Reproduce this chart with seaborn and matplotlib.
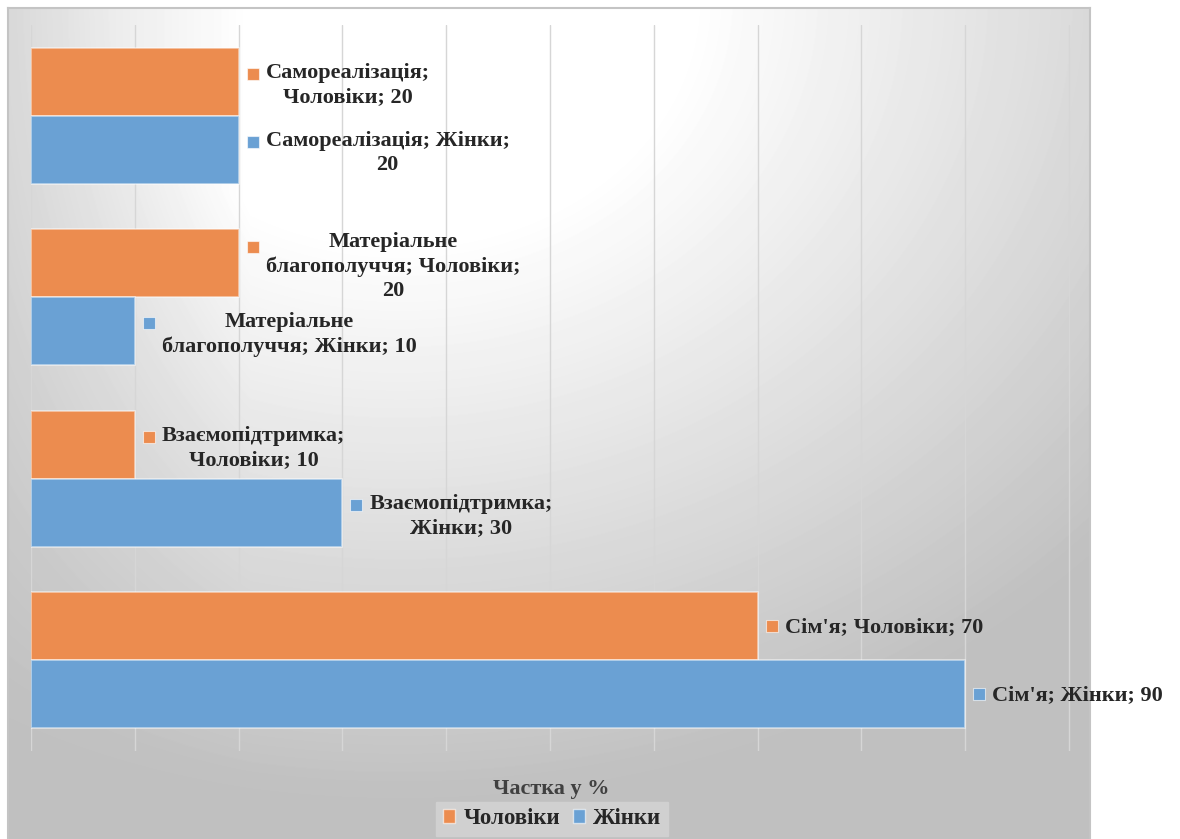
import numpy as np
import pandas as pd
import matplotlib
matplotlib.use('Agg')
import matplotlib.pyplot as plt
import matplotlib.transforms as mtransforms
from matplotlib.patches import Patch
import seaborn as sns

# Data
categories = ['Самореалізація', 'Матеріальне благополуччя', 'Взаємопідтримка', "Сім'я"]
men = [20, 20, 10, 70]
women = [20, 10, 30, 90]
series = ['Чоловіки', 'Жінки']
colors = ['#ec8c4f', '#6aa1d4']
x_title = 'Частка у %'

# data labels, wrapped as in the original
men_labels = ['Самореалізація;\nЧоловіки; 20',
              'Матеріальне\nблагополуччя; Чоловіки;\n20',
              'Взаємопідтримка;\nЧоловіки; 10',
              "Сім'я; Чоловіки; 70"]
women_labels = ['Самореалізація; Жінки;\n20',
                'Матеріальне\nблагополуччя; Жінки; 10',
                'Взаємопідтримка;\nЖінки; 30',
                "Сім'я; Жінки; 90"]

sns.set_style('white')
plt.rcParams['font.family'] = ['Liberation Serif', 'DejaVu Serif']

W, H = 1180, 839
fig = plt.figure(figsize=(W / 100, H / 100), dpi=100)

# gradient chart background (frame from x=8..1090, y=8..bottom)
bg = fig.add_axes([8 / W, -0.01, 1082 / W, 1 - 8 / H + 0.01])
px = np.arange(8, 1090)
py = np.arange(8, 848)
X, Y = np.meshgrid(px, py)
r = np.sqrt((X - 400) ** 2 + ((Y - 0) * 1.2) ** 2)
t_rad = np.clip((r - 290) / 680, 0, 1)
t_left = np.clip((250 - X) / 250, 0, 1) * 0.55
t = 1 - (1 - t_rad) * (1 - t_left)
g = 1 - 0.25 * t
bg.imshow(g, cmap='gray', vmin=0, vmax=1, aspect='auto',
          extent=(8, 1090, 848, 8), interpolation='bilinear')
bg.set_xticks([])
bg.set_yticks([])
for s in bg.spines.values():
    s.set_color('#c4c4c4')
    s.set_linewidth(1.5)

# main plot
ax = fig.add_axes([31 / W, 1 - 751 / H, (1072 - 31) / W, (751 - 25) / H])
ax.set_facecolor('none')

df = pd.DataFrame({
    'category': categories * 2,
    'value': men + women,
    'series': [series[0]] * len(categories) + [series[1]] * len(categories),
})

sns.barplot(data=df, x='value', y='category', hue='series', hue_order=series,
            palette=colors, orient='h', width=0.75, gap=0, ax=ax, legend=False,
            edgecolor=(1, 1, 1, 0.55), linewidth=1.2, saturation=1, zorder=2)

ax.set_xlim(0, 100.3)
ax.set_ylim(len(categories) - 0.5, -0.5)
ax.set_xticks(range(0, 101, 10))
ax.grid(axis='x', color='#d6d6d6', linewidth=1, zorder=0)
ax.set_axisbelow(True)
ax.tick_params(length=0, labelbottom=False, labelleft=False)
ax.set_ylabel('')
ax.set_xlabel(x_title, fontsize=16, fontweight='bold', color='#404040')
ax.xaxis.set_label_coords(0.5, (751 - 779) / 726)
sns.despine(ax=ax, left=True, bottom=True)

# data labels with small series-colour squares
for cont, labels, col in zip(ax.containers, [men_labels, women_labels], colors):
    for bar, lab in zip(cont, labels):
        x = bar.get_width()
        y = bar.get_y() + bar.get_height() / 2
        n = lab.count('\n') + 1
        dy = -3 if n > 1 else -1
        ax.annotate(lab, xy=(x, y), xytext=(27, dy), textcoords='offset pixels',
                    ha='left', va='center', multialignment='center',
                    fontsize=16, fontweight='bold', linespacing=1.28,
                    annotation_clip=False)
        tr = mtransforms.offset_copy(ax.transData, fig=fig, x=14, y=8 * (n - 1), units='dots')
        ax.plot([x], [y], marker='s', ms=8.5, color=col, mec=(1, 1, 1, 0.6), mew=0.8,
                transform=tr, clip_on=False, zorder=3)

handles = [Patch(facecolor=c, edgecolor=(1, 1, 1, 0.6), label=s) for s, c in zip(series, colors)]
fig.legend(handles=handles, loc='center', bbox_to_anchor=(552 / W, 1 - 819 / H), ncol=2,
           frameon=True, facecolor='#d0d0d0', edgecolor='#d0d0d0', fancybox=False,
           framealpha=1, handlelength=0.55, handleheight=0.55, handletextpad=0.35,
           columnspacing=0.55, borderpad=0.3,
           prop={'family': 'Liberation Serif', 'weight': 'bold', 'size': 16.5})

fig.savefig('out.png', dpi=100)
